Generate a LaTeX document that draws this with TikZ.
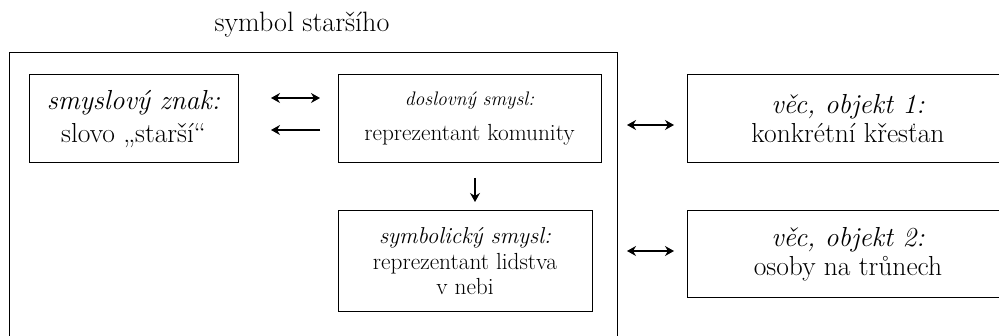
\documentclass[tikz,border=0pt]{standalone}
\usetikzlibrary{arrows.meta}
\begin{document}
\begin{tikzpicture}[x=1pt,y=-1pt,
  box/.style={draw, line width=1pt, inner sep=0pt, align=center},
  big/.style={font=\fontsize{27.5}{29}\selectfont},
  arr/.style={line width=1.2pt, -{Stealth[length=9pt,width=10pt]}},
  darr/.style={line width=1.2pt, {Stealth[length=9pt,width=10pt]}-{Stealth[length=9pt,width=10pt]}}]
\useasboundingbox (0,0) rectangle (999,336);
\clip (0,0) rectangle (999,336);
\node[font=\fontsize{28}{30}\selectfont] (title) at (302,25) {symbol staršího};
\node[box, minimum width=608pt, minimum height=320pt, anchor=north west] (outer) at (9,52) {};
\node[box, big, minimum width=209pt, minimum height=88pt] (b1) at (133.5,119)
  {\textit{smyslový znak:}\\[4pt] slovo „starší“};
\node[box, minimum width=263pt, minimum height=88pt, font=\fontsize{23.3}{26}\selectfont] (b2) at (469.5,119)
  {{\fontsize{19.6}{22}\selectfont\textit{doslovný smysl:}}\\[9pt] reprezentant komunity};
\node[box, minimum width=254pt, minimum height=101pt, font=\fontsize{23.3}{25.5}\selectfont] (b3) at (465,261.5)
  {{\fontsize{23}{25}\selectfont\textit{symbolický smysl:}}\\ reprezentant lidstva\\ v nebi};
\node[box, big, minimum width=322pt, minimum height=88pt] (r1) at (848,119)
  {\textit{věc, objekt 1:}\\ konkrétní křesťan};
\node[box, big, minimum width=322pt, minimum height=87pt] (r2) at (848,254.5)
  {\textit{věc, objekt 2:}\\ osoby na trůnech};
\coordinate (a1l) at (271,98);  \coordinate (a1r) at (320,98);
\coordinate (a2l) at (271,130); \coordinate (a2r) at (320,130);
\coordinate (dt) at (475,178);  \coordinate (db) at (475,202);
\coordinate (c1l) at (627,125); \coordinate (c1r) at (674,125);
\coordinate (c2l) at (627,251); \coordinate (c2r) at (674,251);
\draw[darr] (a1l) -- (a1r);
\draw[arr] (a2r) -- (a2l);
\draw[arr] (dt) -- (db);
\draw[darr] (c1l) -- (c1r);
\draw[darr] (c2l) -- (c2r);
\end{tikzpicture}
\end{document}
